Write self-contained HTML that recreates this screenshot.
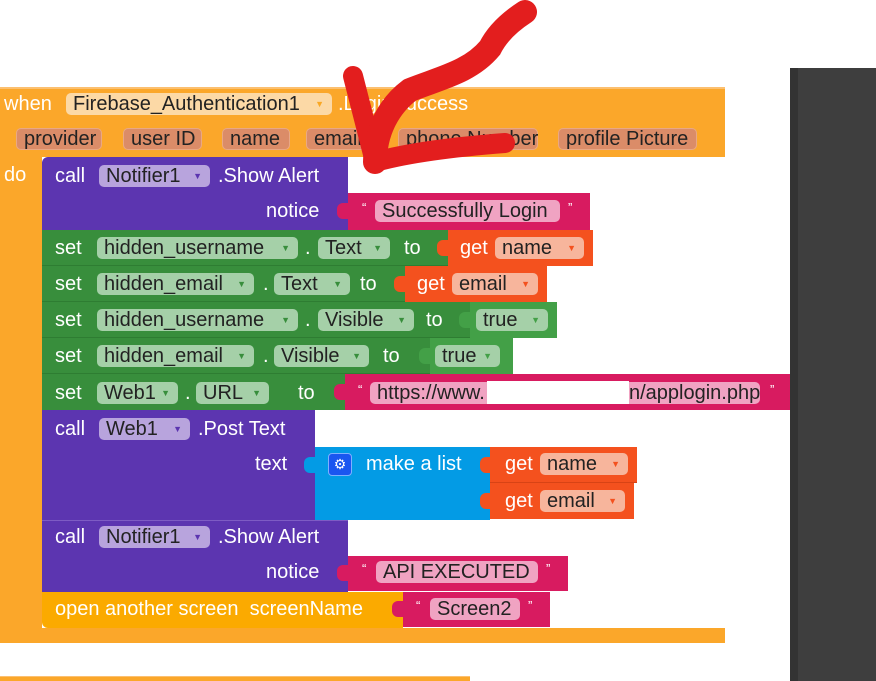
<!DOCTYPE html>
<html><head><meta charset="utf-8"><style>
*{margin:0;padding:0;box-sizing:border-box}
body{width:876px;height:681px;background:#fff;position:relative;overflow:hidden;font-family:"Liberation Sans",sans-serif;font-size:20px}
.r{position:absolute}
.t{position:absolute;color:#fff;height:22px;line-height:22px;white-space:nowrap}
.f{position:absolute;height:22px;line-height:22px;border-radius:5px;color:#222;padding-left:7px;white-space:nowrap}
.f i{font-style:normal;font-size:9px;position:absolute;right:8px;top:0}
.fo{background:#fcd9a6}
.fp{background:#b8a4dd}
.fg{background:#a5d0a8}
.fr{background:#f7b59c}
.fk{background:#f0a3c2}
.fa{background:#db8c68;border:1px solid #e9a884;line-height:20px}
.q{position:absolute;color:#fff;font-size:13px;height:22px;line-height:16px}
</style></head><body>
<div class="r" style="left:790px;top:68px;width:86px;height:613px;background:#3e3e3e"></div>
<div class="r" style="left:790px;top:68px;width:8px;height:613px;background:#333"></div>
<div class="r" style="left:0;top:87px;width:725px;height:70px;background:#fba72a;border-top:2px solid #fcc070"></div>
<div class="r" style="left:0;top:157px;width:42px;height:486px;background:#fba72a"></div>
<div class="r" style="left:0;top:628px;width:725px;height:15px;background:#fba72a"></div>
<div class="r" style="left:0;top:676px;width:470px;height:5px;background:#fba72a;border-top:1px solid #fcc070"></div>
<span class="t" style="left:4px;top:93px">when</span>
<span class="f fo" style="left:66px;top:93px;width:266px">Firebase_Authentication1<i style="color:#f9a825">▼</i></span>
<span class="t" style="left:338px;top:93px">.LoginSuccess</span>
<span class="f fa" style="left:16px;top:128px;width:86px">provider</span>
<span class="f fa" style="left:123px;top:128px;width:79px">user ID</span>
<span class="f fa" style="left:222px;top:128px;width:68px">name</span>
<span class="f fa" style="left:306px;top:128px;width:72px">email</span>
<span class="f fa" style="left:398px;top:128px;width:140px">phone Number</span>
<span class="f fa" style="left:558px;top:128px;width:139px">profile Picture</span>
<span class="t" style="left:4px;top:164px">do</span>

<div class="r" style="left:42px;top:157px;width:306px;height:73px;background:#5c35b0;border-radius:6px 0 0 0"></div>
<span class="t" style="left:55px;top:165px">call</span>
<span class="f fp" style="left:99px;top:165px;width:111px">Notifier1<i style="color:#5c35b0">▼</i></span>
<span class="t" style="left:218px;top:165px">.Show Alert</span>
<span class="t" style="left:266px;top:200px">notice</span>
<div class="r" style="left:348px;top:193px;width:242px;height:37px;background:#d81b60"></div>
<div class="r" style="left:337px;top:203px;width:12px;height:16px;background:#d81b60;border-radius:6px 0 0 6px"></div>
<span class="q" style="left:362px;top:200px">“</span>
<span class="f fk" style="left:375px;top:200px;width:185px">Successfully Login</span>
<span class="q" style="left:568px;top:200px">”</span>

<div class="r" style="left:42px;top:230px;width:406px;height:36px;background:#388e3c;border-bottom:1px solid #2e7d32"></div>
<span class="t" style="left:55px;top:237px">set</span>
<span class="f fg" style="left:97px;top:237px;width:201px">hidden_username<i style="color:#388e3c">▼</i></span>
<span class="t" style="left:305px;top:237px">.</span>
<span class="f fg" style="left:318px;top:237px;width:72px">Text<i style="color:#388e3c">▼</i></span>
<span class="t" style="left:404px;top:237px">to</span>
<div class="r" style="left:448px;top:230px;width:145px;height:36px;background:#f4511e"></div>
<div class="r" style="left:437px;top:240px;width:12px;height:16px;background:#f4511e;border-radius:6px 0 0 6px"></div>
<span class="t" style="left:460px;top:237px">get</span>
<span class="f fr" style="left:495px;top:237px;width:89px">name<i style="color:#f4511e">▼</i></span>

<div class="r" style="left:42px;top:266px;width:363px;height:36px;background:#388e3c;border-bottom:1px solid #2e7d32"></div>
<span class="t" style="left:55px;top:273px">set</span>
<span class="f fg" style="left:97px;top:273px;width:157px">hidden_email<i style="color:#388e3c">▼</i></span>
<span class="t" style="left:263px;top:273px">.</span>
<span class="f fg" style="left:274px;top:273px;width:76px">Text<i style="color:#388e3c">▼</i></span>
<span class="t" style="left:360px;top:273px">to</span>
<div class="r" style="left:405px;top:266px;width:142px;height:36px;background:#f4511e"></div>
<div class="r" style="left:394px;top:276px;width:12px;height:16px;background:#f4511e;border-radius:6px 0 0 6px"></div>
<span class="t" style="left:417px;top:273px">get</span>
<span class="f fr" style="left:452px;top:273px;width:86px">email<i style="color:#f4511e">▼</i></span>

<div class="r" style="left:42px;top:302px;width:428px;height:36px;background:#388e3c;border-bottom:1px solid #2e7d32"></div>
<span class="t" style="left:55px;top:309px">set</span>
<span class="f fg" style="left:97px;top:309px;width:201px">hidden_username<i style="color:#388e3c">▼</i></span>
<span class="t" style="left:305px;top:309px">.</span>
<span class="f fg" style="left:318px;top:309px;width:96px">Visible<i style="color:#388e3c">▼</i></span>
<span class="t" style="left:426px;top:309px">to</span>
<div class="r" style="left:470px;top:302px;width:87px;height:36px;background:#43a047"></div>
<div class="r" style="left:459px;top:312px;width:12px;height:16px;background:#43a047;border-radius:6px 0 0 6px"></div>
<span class="f fg" style="left:476px;top:309px;width:72px">true<i style="color:#43a047">▼</i></span>

<div class="r" style="left:42px;top:338px;width:388px;height:36px;background:#388e3c;border-bottom:1px solid #2e7d32"></div>
<span class="t" style="left:55px;top:345px">set</span>
<span class="f fg" style="left:97px;top:345px;width:157px">hidden_email<i style="color:#388e3c">▼</i></span>
<span class="t" style="left:263px;top:345px">.</span>
<span class="f fg" style="left:274px;top:345px;width:95px">Visible<i style="color:#388e3c">▼</i></span>
<span class="t" style="left:383px;top:345px">to</span>
<div class="r" style="left:430px;top:338px;width:83px;height:36px;background:#43a047"></div>
<div class="r" style="left:419px;top:348px;width:12px;height:16px;background:#43a047;border-radius:6px 0 0 6px"></div>
<span class="f fg" style="left:435px;top:345px;width:65px">true<i style="color:#43a047">▼</i></span>

<div class="r" style="left:42px;top:374px;width:303px;height:36px;background:#388e3c"></div>
<span class="t" style="left:55px;top:382px">set</span>
<span class="f fg" style="left:97px;top:382px;width:81px">Web1<i style="color:#388e3c">▼</i></span>
<span class="t" style="left:185px;top:382px">.</span>
<span class="f fg" style="left:196px;top:382px;width:73px">URL<i style="color:#388e3c">▼</i></span>
<span class="t" style="left:298px;top:382px">to</span>
<div class="r" style="left:345px;top:374px;width:445px;height:36px;background:#d81b60"></div>
<div class="r" style="left:334px;top:384px;width:12px;height:16px;background:#d81b60;border-radius:6px 0 0 6px"></div>
<span class="q" style="left:358px;top:382px">“</span>
<span class="f fk" style="left:370px;top:382px;width:390px">https://www.</span>
<div class="r" style="left:487px;top:381px;width:142px;height:23px;background:#fff"></div>
<span class="r" style="left:629px;top:382px;height:22px;line-height:22px;color:#222">n/applogin.php</span>
<span class="q" style="left:770px;top:382px">”</span>

<div class="r" style="left:42px;top:410px;width:273px;height:110px;background:#5c35b0"></div>
<span class="t" style="left:55px;top:418px">call</span>
<span class="f fp" style="left:99px;top:418px;width:91px">Web1<i style="color:#5c35b0">▼</i></span>
<span class="t" style="left:198px;top:418px">.Post Text</span>
<span class="t" style="left:255px;top:453px">text</span>
<div class="r" style="left:315px;top:447px;width:175px;height:73px;background:#039be5"></div>
<div class="r" style="left:304px;top:457px;width:12px;height:16px;background:#039be5;border-radius:6px 0 0 6px"></div>
<div class="r" style="left:328px;top:453px;width:24px;height:23px;background:#1a56f0;border:1px solid #7fb0ff;border-radius:4px;color:#fff;font-size:14px;text-align:center;line-height:20px">⚙</div>
<span class="t" style="left:366px;top:453px">make a list</span>
<div class="r" style="left:490px;top:447px;width:147px;height:36px;background:#f4511e;border-bottom:1px solid #d84315"></div>
<div class="r" style="left:480px;top:457px;width:12px;height:16px;background:#f4511e;border-radius:6px 0 0 6px"></div>
<span class="t" style="left:505px;top:453px">get</span>
<span class="f fr" style="left:540px;top:453px;width:88px">name<i style="color:#f4511e">▼</i></span>
<div class="r" style="left:490px;top:483px;width:144px;height:36px;background:#f4511e"></div>
<div class="r" style="left:480px;top:493px;width:12px;height:16px;background:#f4511e;border-radius:6px 0 0 6px"></div>
<span class="t" style="left:505px;top:490px">get</span>
<span class="f fr" style="left:540px;top:490px;width:85px">email<i style="color:#f4511e">▼</i></span>

<div class="r" style="left:42px;top:520px;width:306px;height:72px;background:#5c35b0;border-top:1px solid #7e5cc4"></div>
<span class="t" style="left:55px;top:526px">call</span>
<span class="f fp" style="left:99px;top:526px;width:111px">Notifier1<i style="color:#5c35b0">▼</i></span>
<span class="t" style="left:218px;top:526px">.Show Alert</span>
<span class="t" style="left:266px;top:561px">notice</span>
<div class="r" style="left:348px;top:556px;width:220px;height:35px;background:#d81b60"></div>
<div class="r" style="left:337px;top:565px;width:12px;height:16px;background:#d81b60;border-radius:6px 0 0 6px"></div>
<span class="q" style="left:362px;top:561px">“</span>
<span class="f fk" style="left:376px;top:561px;width:162px">API EXECUTED</span>
<span class="q" style="left:546px;top:561px">”</span>

<div class="r" style="left:42px;top:592px;width:361px;height:36px;background:#fbaa00;border-radius:0 0 0 6px"></div>
<span class="t" style="left:55px;top:598px">open another screen&nbsp; screenName</span>
<div class="r" style="left:403px;top:592px;width:147px;height:35px;background:#d81b60"></div>
<div class="r" style="left:392px;top:601px;width:12px;height:16px;background:#d81b60;border-radius:6px 0 0 6px"></div>
<span class="q" style="left:416px;top:598px">“</span>
<span class="f fk" style="left:430px;top:598px;width:90px">Screen2</span>
<span class="q" style="left:528px;top:598px">”</span>

<svg class="r" style="left:0;top:0" width="876" height="681">
<path d="M353 76 L375 162 C400 155 440 148 505 143" fill="none" stroke="#e31e1e" stroke-width="20" stroke-linecap="round" stroke-linejoin="round"/>
<path d="M525 12 C505 25 495 38 490 48 C470 72 440 78 410 90 C390 105 375 130 375 162" fill="none" stroke="#e31e1e" stroke-width="24" stroke-linecap="round"/>
</svg>
</body></html>
